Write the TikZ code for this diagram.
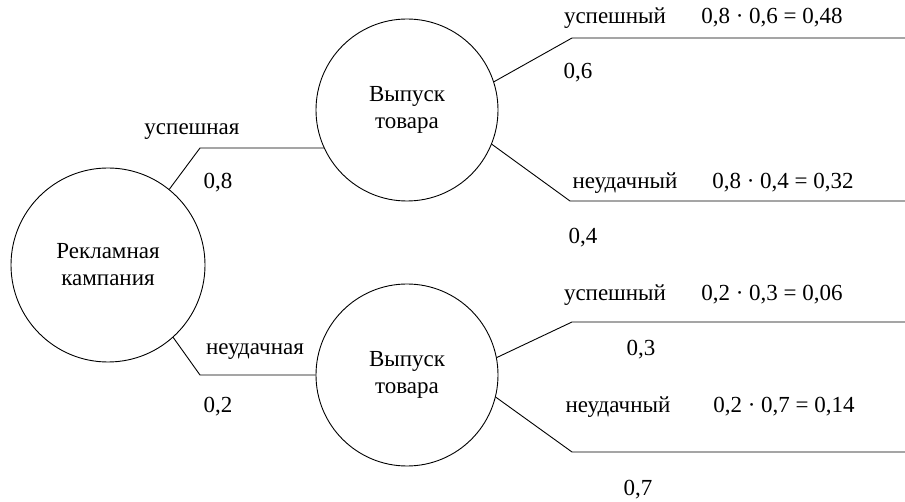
\documentclass[tikz,border=0pt]{standalone}
\usepackage{fontspec}
\setmainfont{Liberation Serif}
\usetikzlibrary{positioning}

\begin{document}
\begin{tikzpicture}[x=1pt,y=1pt,
		event/.style={draw, circle, line width=0.9pt, inner sep=0pt, align=center},
		lbl/.style={inner sep=0pt},
		every node/.append style={font=\fontsize{23}{27}\selectfont}]
		\useasboundingbox (0,0) rectangle (905,501);
		% circles
		\node[event, minimum size=194pt] (ad) at (108,236) {Рекламная\\кампания};
		\node[event, minimum size=182pt] (relA) at (407,391) {Выпуск\\товара};
		\node[event, minimum size=182pt] (relB) at (407,126) {Выпуск\\товара};
		% bends and free ends
		\coordinate (bA) at (200,353);
		\coordinate (bB) at (200,126);
		\coordinate (bA1) at (572,463);
		\coordinate (bA2) at (570,300);
		\coordinate (bB1) at (572,179);
		\coordinate (bB2) at (572,49);
		\coordinate (eA1) at (905,463);
		\coordinate (eA2) at (905,300);
		\coordinate (eB1) at (905,179);
		\coordinate (eB2) at (905,49);
		% branches
		\draw[line width=0.9pt] (ad.51) -- (bA) -- (bA -| relA.205);
		\draw[line width=0.9pt] (ad.312) -- (bB) -- (relB.west);
		\draw[line width=0.9pt] (relA.18) -- (bA1) -- (eA1);
		\draw[line width=0.9pt] (relA.338) -- (bA2) -- (eA2);
		\draw[line width=0.9pt] (relB.11) -- (bB1) -- (eB1);
		\draw[line width=0.9pt] (relB.346) -- (bB2) -- (eB2);
		% labels
		\node[lbl] (lA) at (192,369) {успешная};
		\node[lbl] (pA) at (218,318) {0,8};
		\node[lbl] (lB) at (255,149) {неудачная};
		\node[lbl] (pB) at (218,94) {0,2};
		\node[lbl] (lA1) at (615,483) {успешный};
		\node[lbl] (rA1) at (772,483) {0,8 · 0,6 = 0,48};
		\node[lbl] (pA1) at (578,428) {0,6};
		\node[lbl] (lA2) at (625,318) {неудачный};
		\node[lbl] (rA2) at (783,318) {0,8 · 0,4 = 0,32};
		\node[lbl] (pA2) at (583,263) {0,4};
		\node[lbl] (lB1) at (615,206) {успешный};
		\node[lbl] (rB1) at (772,206) {0,2 · 0,3 = 0,06};
		\node[lbl] (pB1) at (641,151) {0,3};
		\node[lbl] (lB2) at (618,94) {неудачный};
		\node[lbl] (rB2) at (784,94) {0,2 · 0,7 = 0,14};
		\node[lbl] (pB2) at (638,11) {0,7};
	\end{tikzpicture}
\end{document}
